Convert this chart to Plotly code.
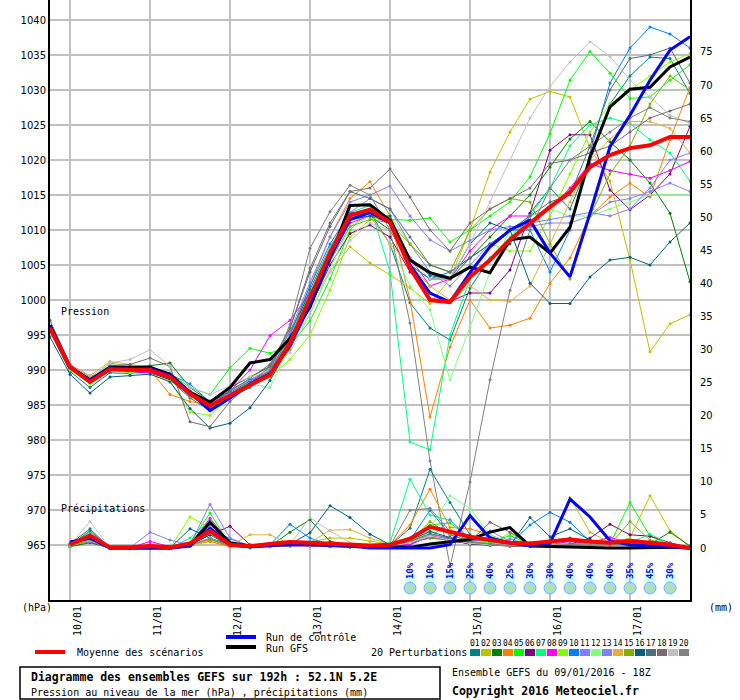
import plotly.graph_objects as go

# forecast steps every 6h from 09/01 18Z to 17/01 18Z (192h)
hours = list(range(0, 193, 6))
rain_hours = hours[1:]

day_ticks = [6, 30, 54, 78, 102, 126, 150, 174]
day_labels = ['10/01', '11/01', '12/01', '13/01', '14/01', '15/01', '16/01', '17/01']

# sea level pressure (hPa)
mean_pres = [996.0, 990.4, 988.3, 990.1, 990.0, 990.0, 989.0, 986.6, 984.9, 986.4, 987.9, 989.3, 993.9, 1000.4, 1006.7, 1012.1, 1012.9,
             1011.1, 1004.6, 1000.0, 999.7, 1003.3, 1005.7, 1008.6, 1011.0, 1013.3, 1015.4, 1019.0, 1020.7, 1021.7, 1022.1, 1023.3, 1023.3]
ctrl_pres = [996.2, 990.5, 988.5, 990.3, 990.2, 990.2, 989.2, 986.8, 984.2, 986.0, 988.0, 989.5, 993.5, 999.5, 1006.0, 1011.5, 1012.5,
             1011.0, 1005.0, 1001.0, 999.7, 1003.9, 1007.6, 1010.0, 1011.4, 1006.7, 1003.3, 1012.4, 1021.9, 1026.4, 1031.4, 1035.7, 1037.6]
gfs_pres = [996.4, 990.4, 988.6, 990.4, 990.4, 990.4, 989.4, 986.8, 985.4, 987.5, 991.0, 991.5, 994.5, 999.0, 1006.0, 1013.5, 1013.6,
            1011.4, 1005.7, 1003.9, 1003.1, 1004.7, 1003.9, 1008.6, 1009.0, 1006.7, 1010.4, 1020.4, 1027.6, 1030.1, 1030.4, 1033.3, 1034.7]

p01 = [995.5, 989.8, 987.5, 989.6, 989.5, 989.8, 988.6, 986.0, 984.2, 986.0, 987.5, 989.5, 994.5, 1001.5, 1007.5, 1012.0, 1012.5,
       1008.0, 999.6, 996.0, 994.3, 1001.7, 1006.0, 1008.0, 1012.4, 1016.0, 1013.0, 1020.0, 1028.0, 1032.0, 1034.7, 1034.5, 1029.5]
p02 = [996.5, 990.8, 988.8, 990.5, 990.3, 990.2, 989.3, 987.0, 985.5, 987.0, 988.5, 990.0, 994.0, 999.5, 1004.0, 1007.6, 1005.3,
       1003.6, 1001.7, 999.5, 1003.0, 1010.0, 1018.3, 1024.0, 1028.7, 1029.8, 1029.0, 1021.7, 1017.0, 1005.7, 992.6, 996.6, 997.9]
p03 = [996.2, 990.6, 988.6, 990.4, 990.5, 990.6, 991.0, 987.5, 985.5, 987.5, 989.0, 990.5, 995.5, 1001.0, 1007.0, 1011.5, 1012.0,
       1010.0, 1005.0, 1003.0, 1003.0, 1006.0, 1009.0, 1012.0, 1015.0, 1019.0, 1023.0, 1025.5, 1022.6, 1020.0, 1016.7, 1012.4, 1002.6]
p04 = [996.0, 990.6, 988.8, 991.0, 990.5, 990.0, 986.5, 985.5, 985.0, 986.5, 988.5, 990.0, 995.0, 1002.0, 1009.0, 1014.5, 1016.9,
       1012.0, 1000.0, 983.3, 993.3, 1000.0, 996.0, 996.4, 997.4, 1002.4, 1006.0, 1012.0, 1014.7, 1016.7, 1014.7, 1022.9, 1030.4]
p05 = [996.3, 990.5, 988.5, 990.3, 990.2, 990.3, 989.5, 987.5, 986.5, 990.3, 993.1, 992.4, 993.5, 997.0, 1003.0, 1010.0, 1013.0,
       1011.5, 1011.4, 1011.7, 1008.3, 1010.0, 1012.0, 1014.0, 1017.6, 1023.8, 1031.4, 1035.5, 1032.4, 1028.8, 1029.0, 1031.4, 1033.6]
p06 = [995.8, 990.2, 988.2, 990.0, 989.8, 989.6, 988.6, 986.4, 984.6, 986.6, 988.2, 989.2, 993.0, 999.0, 1005.0, 1009.5, 1010.7,
       1009.0, 1004.0, 1001.0, 999.8, 1001.0, 1001.0, 1004.3, 1012.4, 1021.4, 1023.6, 1023.6, 1015.7, 1012.9, 1015.0, 1018.0, 1024.8]
p07 = [996.4, 990.4, 988.4, 990.4, 990.6, 990.2, 989.2, 986.6, 985.2, 986.5, 988.2, 989.8, 994.5, 1001.0, 1007.5, 1012.5, 1013.5,
       1004.0, 979.7, 978.6, 995.0, 1003.0, 1006.0, 1009.0, 1012.0, 1016.0, 1022.0, 1025.0, 1026.0, 1025.2, 1022.9, 1021.0, 1017.0]
p08 = [996.0, 990.6, 988.6, 990.2, 989.8, 989.6, 989.0, 986.5, 985.0, 987.0, 990.0, 994.9, 997.1, 1001.0, 1006.0, 1011.0, 1012.0,
       1011.0, 1006.0, 1002.0, 1003.0, 1007.0, 1010.0, 1012.0, 1012.0, 1013.0, 1016.0, 1019.5, 1018.5, 1018.0, 1017.4, 1018.5, 1019.8]
p09 = [996.2, 990.0, 988.0, 990.0, 989.6, 989.4, 988.4, 984.0, 983.5, 986.0, 988.0, 989.0, 991.5, 995.0, 1001.4, 1009.0, 1011.5,
       1012.0, 1008.0, 1005.0, 1004.0, 1006.0, 1008.0, 1007.0, 1007.0, 1012.0, 1018.0, 1024.0, 1028.0, 1030.0, 1032.0, 1034.0, 1035.2]
p10 = [996.0, 990.3, 988.4, 990.6, 990.4, 990.4, 989.4, 988.0, 985.4, 986.8, 988.4, 989.8, 995.0, 1002.0, 1008.0, 1012.5, 1012.5,
       1011.0, 1005.0, 1003.0, 1004.0, 1006.0, 1008.0, 1010.0, 1010.0, 1004.0, 1010.0, 1021.0, 1031.0, 1036.0, 1039.0, 1038.0, 1036.0]
p11 = [996.6, 990.8, 989.0, 990.6, 990.2, 990.2, 989.6, 987.0, 985.6, 987.2, 988.6, 990.2, 995.5, 1002.5, 1009.0, 1014.0, 1015.0,
       1016.3, 1012.0, 1008.6, 1007.0, 1008.5, 1010.0, 1010.5, 1010.5, 1011.0, 1011.0, 1012.0, 1014.0, 1014.5, 1015.5, 1016.7, 1015.5]
p12 = [996.8, 990.6, 988.8, 990.8, 990.6, 990.4, 989.4, 987.0, 985.0, 986.5, 988.0, 987.5, 993.5, 998.0, 1004.5, 1010.5, 1012.0,
       1008.0, 1002.0, 998.6, 988.6, 996.1, 1004.0, 1010.0, 1012.0, 1013.0, 1012.0, 1012.0, 1013.0, 1014.0, 1015.0, 1015.0, 1015.0]
p13 = [996.2, 990.2, 988.2, 990.2, 990.0, 990.0, 989.0, 986.8, 985.2, 986.6, 988.0, 989.6, 994.0, 1000.5, 1007.0, 1012.5, 1014.5,
       1013.0, 1008.0, 1004.0, 1002.0, 1005.0, 1008.0, 1010.0, 1011.0, 1011.5, 1012.0, 1012.5, 1012.0, 1013.0, 1016.0, 1020.0, 1021.0]
p14 = [996.0, 990.8, 989.2, 991.2, 990.8, 990.4, 989.2, 986.4, 984.6, 986.2, 988.0, 989.4, 993.5, 1000.0, 1006.0, 1011.5, 1012.0,
       1008.0, 1005.0, 1002.0, 1000.0, 1002.0, 1000.0, 999.8, 1002.0, 1008.0, 1014.0, 1020.0, 1023.0, 1025.5, 1025.5, 1024.5, 1021.0]
p15 = [996.4, 990.4, 988.6, 990.0, 990.0, 990.0, 989.0, 986.2, 984.8, 986.2, 987.6, 989.0, 993.0, 999.5, 1005.5, 1010.5, 1011.5,
       1011.0, 1008.0, 1005.0, 1004.0, 1010.0, 1013.0, 1014.5, 1014.0, 1008.0, 1003.0, 1012.0, 1018.0, 1022.0, 1028.0, 1032.0, 1030.0]
p16 = [994.7, 989.4, 986.7, 989.0, 989.2, 989.4, 988.3, 984.5, 981.7, 982.4, 984.6, 988.5, 993.5, 1000.0, 1006.5, 1011.5, 1012.0,
       1012.0, 1006.0, 1003.5, 1003.0, 1008.0, 1011.0, 1010.0, 1002.4, 999.5, 999.5, 1003.3, 1005.7, 1006.1, 1005.0, 1008.3, 1011.0]
p17 = [997.1, 990.8, 988.6, 990.4, 990.0, 990.2, 989.4, 987.0, 985.4, 987.0, 988.8, 990.8, 996.0, 1004.0, 1010.5, 1015.5, 1014.5,
       1013.0, 1009.0, 1005.0, 1004.0, 1006.0, 1008.0, 1010.0, 1012.0, 1014.0, 1015.0, 1022.0, 1030.0, 1034.5, 1035.0, 1036.0, 1031.0]
p18 = [996.2, 990.6, 988.4, 990.6, 990.8, 991.7, 990.5, 982.6, 981.9, 985.5, 988.0, 990.5, 996.0, 1004.5, 1011.0, 1015.5, 1016.0,
       1018.7, 1014.7, 1010.0, 1007.0, 1011.0, 1013.0, 1014.5, 1016.0, 1019.5, 1020.0, 1021.0, 1022.0, 1024.0, 1026.0, 1027.0, 1028.0]
p19 = [996.6, 990.8, 988.8, 991.0, 991.5, 992.9, 990.5, 987.5, 986.5, 987.8, 989.0, 990.0, 992.5, 998.0, 1004.0, 1008.5, 1011.0,
       1010.0, 1006.0, 1003.0, 1003.0, 1008.0, 1014.0, 1020.0, 1026.0, 1030.5, 1034.0, 1036.9, 1034.8, 1031.4, 1029.0, 1026.4, 1025.2]
p20 = [996.0, 990.5, 988.3, 990.2, 990.3, 990.0, 989.0, 986.3, 984.5, 986.0, 987.7, 990.0, 996.5, 1007.4, 1012.6, 1016.4, 1015.0,
       1010.0, 996.7, 977.0, 962.0, 974.0, 988.6, 1001.4, 1010.0, 1016.0, 1020.0, 1022.0, 1024.0, 1026.0, 1027.5, 1026.0, 1025.5]

# 6-hourly precipitation (mm)
mean_rain = [0.5, 1.9, 0.1, 0.1, 0.3, 0.1, 0.7, 2.6, 0.5, 0.3, 0.6, 0.9, 0.8, 0.7, 0.5, 0.4,
             0.5, 1.4, 3.2, 2.4, 1.7, 1.2, 0.8, 0.7, 1.0, 1.3, 1.0, 0.8, 1.1, 0.8, 0.5, 0.0]
ctrl_rain = [0.9, 1.5, 0.0, 0.0, 0.0, 0.0, 0.3, 3.0, 0.5, 0.2, 0.4, 0.5, 0.6, 0.4, 0.3, 0.0,
             0.0, 0.0, 0.0, 0.5, 4.9, 1.5, 0.8, 0.3, 0.7, 7.4, 4.7, 1.1, 0.5, 0.3, 0.2, 0.0]
gfs_rain = [0.8, 1.6, 0.0, 0.0, 0.0, 0.0, 0.4, 3.9, 0.8, 0.3, 0.6, 0.8, 0.6, 0.4, 0.3, 0.2,
            0.1, 0.1, 0.6, 0.9, 1.3, 2.4, 3.1, 0.3, 0.2, 0.2, 0.1, 0.0, 0.0, 0.1, 0.1, 0.0]

r01 = [0.6, 2.9, 0.0, 0.0, 0.2, 0.0, 0.4, 2.0, 0.3, 0.0, 0.2, 0.5, 0.3, 0.2, 0.1, 0.3,
       0.4, 3.0, 11.9, 6.9, 2.0, 1.0, 0.5, 0.8, 1.2, 1.5, 1.0, 0.5, 0.3, 0.4, 0.2, 0.0]
r02 = [0.3, 1.2, 0.0, 0.0, 0.0, 0.0, 0.3, 1.0, 0.2, 0.2, 0.5, 0.6, 0.9, 1.5, 1.5, 1.0,
       0.6, 0.8, 2.0, 1.2, 0.8, 0.5, 0.3, 0.4, 0.6, 7.6, 2.4, 0.8, 1.5, 7.9, 2.6, 0.2]
r03 = [0.2, 0.8, 0.0, 0.0, 0.0, 0.0, 0.3, 1.5, 0.3, 0.2, 0.3, 2.4, 4.3, 1.0, 0.5, 0.4,
       0.3, 1.0, 1.5, 1.2, 0.6, 0.4, 0.3, 0.3, 0.4, 0.5, 1.2, 0.8, 0.5, 0.6, 2.4, 0.3]
r04 = [0.5, 1.5, 0.0, 0.0, 0.1, 0.0, 0.6, 1.0, 0.2, 0.3, 0.3, 0.4, 0.5, 0.6, 0.4, 0.3,
       0.5, 3.5, 8.9, 3.1, 2.9, 2.0, 0.8, 0.5, 0.4, 0.5, 0.6, 0.4, 0.6, 0.5, 0.3, 0.0]
r05 = [0.4, 1.6, 0.0, 0.0, 0.0, 0.0, 0.8, 5.3, 0.5, 0.2, 0.3, 0.4, 0.6, 0.5, 0.4, 0.2,
       0.4, 1.5, 3.5, 3.8, 1.5, 0.8, 1.9, 0.5, 0.4, 0.6, 0.8, 0.6, 6.9, 1.8, 0.5, 0.0]
r06 = [0.3, 1.0, 0.0, 0.0, 0.5, 0.2, 0.5, 2.0, 3.3, 0.5, 0.3, 0.3, 0.4, 0.3, 0.3, 0.3,
       0.2, 0.5, 1.8, 1.2, 0.6, 0.5, 0.3, 0.3, 0.4, 0.6, 1.5, 3.6, 2.0, 1.8, 0.8, 0.0]
r07 = [0.5, 2.4, 0.0, 0.0, 0.0, 0.0, 1.5, 4.2, 0.6, 0.3, 0.4, 0.8, 1.0, 0.6, 0.4, 0.3,
       0.8, 10.4, 5.0, 4.2, 1.5, 0.6, 0.4, 0.3, 0.5, 0.4, 0.5, 0.6, 0.8, 2.1, 0.6, 0.0]
r08 = [0.4, 1.2, 0.0, 0.0, 1.0, 0.2, 0.6, 4.5, 0.8, 0.3, 0.4, 0.5, 0.6, 0.5, 0.3, 0.3,
       0.2, 0.6, 1.7, 1.4, 1.0, 1.5, 0.7, 0.4, 0.5, 1.0, 0.8, 1.6, 0.8, 0.6, 0.4, 0.0]
r09 = [0.3, 1.8, 0.0, 0.0, 0.0, 0.0, 4.7, 3.0, 0.4, 0.3, 0.3, 0.3, 0.5, 0.4, 0.3, 0.2,
       0.3, 1.0, 2.5, 2.8, 1.2, 0.6, 2.3, 0.5, 0.4, 0.5, 0.6, 0.5, 0.8, 0.6, 0.4, 0.0]
r10 = [0.7, 1.5, 0.0, 0.0, 0.0, 0.0, 0.5, 3.0, 1.4, 0.3, 0.5, 3.6, 1.5, 0.5, 0.4, 0.4,
       0.3, 1.2, 5.7, 2.0, 1.0, 1.8, 0.6, 3.5, 5.4, 3.9, 1.0, 0.5, 0.4, 0.5, 0.3, 0.0]
r11 = [0.4, 1.0, 0.0, 0.0, 2.4, 1.2, 0.5, 6.6, 1.5, 0.3, 0.4, 0.3, 0.4, 0.3, 0.3, 0.2,
       0.3, 0.8, 1.5, 4.3, 1.2, 2.6, 1.0, 0.5, 0.4, 0.5, 0.4, 0.5, 0.6, 0.4, 0.3, 0.0]
r12 = [0.3, 1.3, 0.0, 0.0, 0.0, 0.0, 0.4, 2.5, 0.4, 0.3, 0.3, 0.4, 0.6, 0.5, 0.4, 0.3,
       0.3, 1.5, 3.0, 7.9, 6.0, 2.0, 0.6, 0.4, 0.4, 0.5, 0.4, 0.5, 0.5, 0.4, 0.3, 0.0]
r13 = [0.5, 1.4, 0.0, 0.0, 0.3, 0.0, 0.4, 3.5, 0.6, 0.3, 0.3, 0.4, 0.5, 0.4, 0.3, 0.3,
       0.3, 0.9, 2.0, 1.6, 0.8, 0.6, 1.4, 0.4, 0.4, 0.5, 0.6, 0.5, 0.4, 0.5, 0.4, 0.0]
r14 = [0.3, 1.1, 0.0, 0.0, 0.0, 0.0, 0.3, 1.2, 0.4, 2.0, 2.0, 0.6, 0.8, 2.7, 2.8, 1.5,
       0.6, 1.0, 1.6, 1.2, 0.8, 0.5, 0.4, 0.3, 0.3, 0.4, 0.5, 0.4, 0.6, 1.0, 0.5, 0.0]
r15 = [0.3, 1.2, 0.0, 0.0, 0.0, 0.0, 0.5, 1.3, 0.3, 0.2, 0.3, 0.4, 0.6, 0.4, 0.3, 0.3,
       0.3, 1.0, 4.0, 2.0, 0.9, 0.6, 0.4, 0.4, 0.5, 0.6, 0.7, 0.5, 4.0, 1.2, 0.6, 0.0]
r16 = [0.5, 2.0, 0.0, 0.0, 0.2, 0.0, 2.9, 1.5, 0.5, 0.3, 0.4, 0.6, 2.3, 6.4, 4.6, 2.1,
       0.5, 1.2, 2.5, 1.6, 0.7, 0.5, 0.4, 4.6, 1.7, 2.9, 1.2, 0.6, 0.5, 0.8, 0.6, 0.0]
r17 = [0.4, 2.6, 0.0, 0.0, 0.0, 0.0, 0.4, 3.8, 0.5, 0.3, 0.3, 0.4, 0.6, 0.5, 0.4, 0.3,
       0.3, 1.0, 2.2, 1.5, 0.8, 0.5, 0.4, 0.3, 0.4, 0.5, 0.4, 0.6, 0.5, 0.6, 0.4, 0.0]
r18 = [0.3, 1.5, 0.0, 0.0, 0.0, 0.0, 0.4, 2.2, 0.4, 0.3, 0.3, 0.4, 0.5, 0.4, 0.3, 0.3,
       0.3, 0.8, 1.6, 1.3, 1.0, 3.9, 2.4, 0.6, 0.4, 0.5, 0.4, 0.5, 0.5, 1.0, 0.7, 0.0]
r19 = [0.4, 4.0, 0.0, 0.0, 0.0, 0.0, 0.5, 1.5, 0.3, 0.3, 0.4, 0.5, 4.6, 2.6, 0.8, 0.4,
       0.3, 0.8, 1.8, 1.2, 0.7, 0.5, 0.4, 0.4, 0.5, 0.4, 0.4, 0.5, 0.6, 0.5, 0.4, 0.0]
r20 = [0.5, 1.6, 0.0, 0.0, 0.0, 0.0, 0.5, 1.4, 0.3, 0.2, 0.3, 0.4, 0.5, 0.4, 0.3, 0.3,
       0.3, 5.7, 6.0, 2.5, 1.0, 0.6, 0.4, 0.3, 0.4, 0.5, 0.4, 0.5, 0.6, 0.5, 0.4, 0.0]

pert_colors = ['#008080', '#c0c000', '#008000', '#ff8000', '#00ff00', '#800080', '#00ff80',
               '#ff00ff', '#80ff00', '#0080ff', '#8080ff', '#80ff80', '#8080f8', '#e0b040',
               '#80b000', '#006080', '#507078', '#806870', '#c0c0c0', '#808080']

snow_hours = [108, 114, 120, 126, 132, 138, 144, 150, 156, 162, 168, 174, 180, 186]
snow_pct = [10, 10, 15, 25, 40, 25, 30, 30, 40, 40, 40, 35, 45, 30]

pert_pres = [p01, p02, p03, p04, p05, p06, p07, p08, p09, p10,
             p11, p12, p13, p14, p15, p16, p17, p18, p19, p20]
pert_rain = [r01, r02, r03, r04, r05, r06, r07, r08, r09, r10,
             r11, r12, r13, r14, r15, r16, r17, r18, r19, r20]

MONO = 'DejaVu Sans Mono'

# plot area is 640x600 px starting at (50, 0)
def px(x):
    return (x - 50) / 640.0

def py(y):
    return (600 - y) / 600.0

def pres_at(y):
    # pixel row -> hPa (35 px per 5 hPa, 1040 at row 20)
    return 1040 - (y - 20) / 7.0


fig = go.Figure()

for k in range(20):
    c = pert_colors[k]
    fig.add_trace(go.Scatter(x=hours, y=pert_pres[k], mode='lines+markers',
                             line=dict(color=c, width=1), marker=dict(color=c, size=3),
                             yaxis='y', showlegend=False, hoverinfo='skip'))
    fig.add_trace(go.Scatter(x=rain_hours, y=pert_rain[k], mode='lines+markers',
                             line=dict(color=c, width=1), marker=dict(color=c, size=3),
                             yaxis='y2', showlegend=False, hoverinfo='skip'))

for pres, rain, c, w in [(gfs_pres, gfs_rain, '#000000', 3),
                         (ctrl_pres, ctrl_rain, '#0000ff', 3),
                         (mean_pres, mean_rain, '#ff0000', 4)]:
    fig.add_trace(go.Scatter(x=hours, y=pres, mode='lines', line=dict(color=c, width=w),
                             yaxis='y', showlegend=False, hoverinfo='skip'))
    fig.add_trace(go.Scatter(x=rain_hours, y=rain, mode='lines', line=dict(color=c, width=w),
                             yaxis='y2', showlegend=False, hoverinfo='skip'))

# snow probability icons
icon_y = [pres_at(588)] * len(snow_hours)
fig.add_trace(go.Scatter(x=snow_hours, y=icon_y, mode='markers',
                         marker=dict(symbol='circle', size=12, color='#a8d8f8',
                                     line=dict(color='#70b4ec', width=1)),
                         yaxis='y', showlegend=False, hoverinfo='skip'))
fig.add_trace(go.Scatter(x=snow_hours, y=icon_y, mode='markers',
                         marker=dict(symbol='asterisk-open', size=8,
                                     line=dict(color='#3f8fdc', width=1)),
                         yaxis='y', showlegend=False, hoverinfo='skip'))

annotations = []
shapes = []
for h, pct in zip(snow_hours, snow_pct):
    shapes.append(dict(type='rect', xref='x', yref='y', x0=h - 1.6, x1=h + 1.6,
                       y0=pres_at(582), y1=pres_at(573), fillcolor='#ccffff',
                       line=dict(width=0), layer='below'))
    annotations.append(dict(x=h, y=pres_at(571), xref='x', yref='y', text=f'<b>{pct}%</b>',
                            textangle=-90, showarrow=False,
                            font=dict(family=MONO, size=9, color='#0000ff')))

def label(x, y, text, size=10, anchor='left', bold=False):
    if bold:
        text = f'<b>{text}</b>'
    annotations.append(dict(x=px(x), y=py(y), xref='paper', yref='paper', text=text,
                            xanchor=anchor, yanchor='middle', showarrow=False,
                            font=dict(family=MONO, size=size, color='#000000')))

label(59, 311, 'Pression')
label(59, 508, 'Précipitations')
label(20, 607, '(hPa)')
label(75, 652, 'Moyenne des scénarios')
label(264, 637, 'Run de contrôle')
label(264, 648, 'Run GFS')
label(369, 652, '20 Perturbations')
label(29, 677, 'Diagramme des ensembles GEFS sur 192h : 52.1N 5.2E', size=11.5, bold=True)
label(29, 692, 'Pression au niveau de la mer (hPa) , précipitations (mm)')
label(450, 672, 'Ensemble GEFS du 09/01/2016 - 18Z')
label(450, 691, 'Copyright 2016 Meteociel.fr', size=11.5, bold=True)

for x0, x1, y, c in [(35, 65, 652, '#ff0000'), (226, 256, 637, '#0000ff'), (226, 256, 647, '#000000')]:
    shapes.append(dict(type='line', xref='paper', yref='paper', x0=px(x0), x1=px(x1),
                       y0=py(y), y1=py(y), line=dict(color=c, width=4)))

for k, c in enumerate(pert_colors):
    x0 = 470 + 11 * k
    shapes.append(dict(type='rect', xref='paper', yref='paper', x0=px(x0), x1=px(x0 + 10),
                       y0=py(656), y1=py(649), fillcolor=c, line=dict(width=0)))
    annotations.append(dict(x=px(x0 + 5), y=py(643), xref='paper', yref='paper',
                            text=f'{k + 1:02d}', showarrow=False, xanchor='center',
                            yanchor='middle',
                            font=dict(family=MONO, size=8, color='black')))

shapes.append(dict(type='rect', xref='paper', yref='paper', x0=px(20), x1=px(440),
                   y0=py(699), y1=py(667), line=dict(color='black', width=1.5)))

fig.update_layout(
    width=740, height=700,
    margin=dict(l=50, r=50, t=0, b=100),
    paper_bgcolor='white', plot_bgcolor='white',
    font=dict(family=MONO, size=10, color='black'),
    # the unit of the right axis sits beside the bottom right corner
    title=dict(text='(mm)', x=709 / 740, y=1 - 607 / 700, xref='container', yref='container',
               xanchor='left', yanchor='middle',
               font=dict(family=MONO, size=10, color='#000000')),
    xaxis=dict(range=[0, 192], tickvals=day_ticks, ticktext=day_labels, tickangle=-90,
               showgrid=True, gridcolor='#c0c0c0', gridwidth=2, zeroline=False,
               showline=True, linecolor='black', linewidth=2, ticks='',
               ticklabelshift=8, tickfont=dict(family=MONO, size=10)),
    yaxis=dict(range=[957.143, 1042.857], tickvals=list(range(965, 1041, 5)),
               showgrid=True, gridcolor='#c0c0c0', gridwidth=2, zeroline=False,
               showline=True, linecolor='black', linewidth=2, ticks='',
               tickfont=dict(family='DejaVu Sans', size=10)),
    yaxis2=dict(range=[-7.857, 82.857], tickvals=list(range(0, 76, 5)), overlaying='y',
                side='right', showgrid=False, zeroline=False, showline=True,
                linecolor='black', linewidth=2, ticks='', ticklabelstandoff=6,
                tickfont=dict(family='DejaVu Sans', size=10)),
    annotations=annotations,
    shapes=shapes,
)

fig.write_html('out.html', config={'displayModeBar': False},
               post_script="document.body.style.margin='0';")
